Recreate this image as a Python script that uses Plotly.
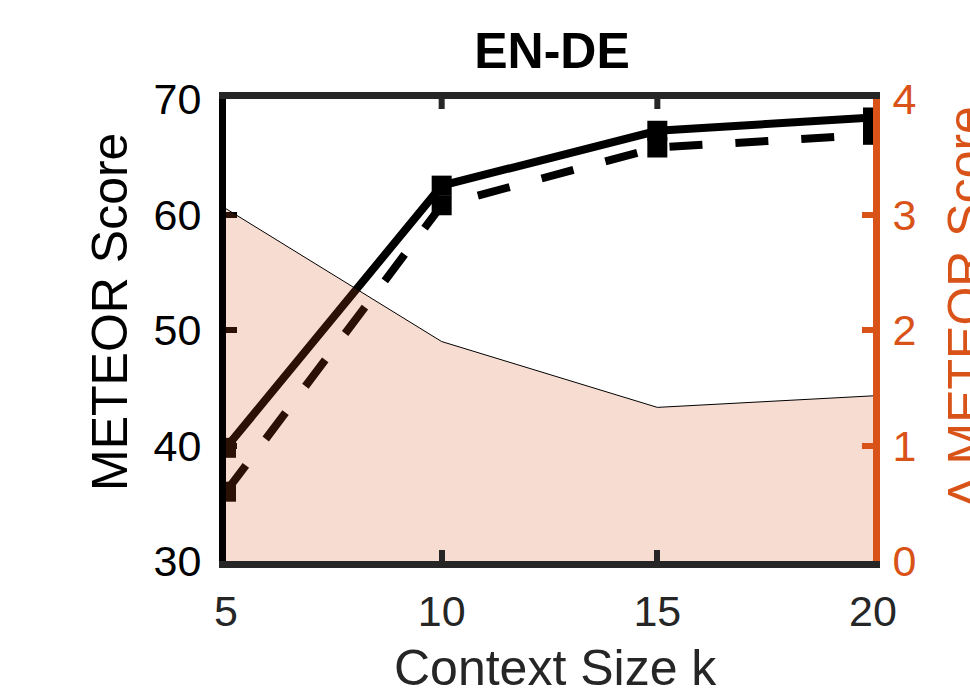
import plotly.graph_objects as go

# Data
context_k = [5, 10, 15, 20]
meteor_solid = [39.8, 62.5, 67.25, 68.4]
meteor_dashed = [36.0, 60.8, 65.8, 66.9]
delta_meteor = [3.05, 1.90, 1.33, 1.43]

x_ticks = [5, 10, 15, 20]
y_ticks = [30, 40, 50, 60, 70]
y2_ticks = [0, 1, 2, 3, 4]

ORANGE = "#D95319"
DARK = "#262626"
FONT = "Liberation Sans, Arial, Helvetica, sans-serif"

W, H = 970, 696
L, R, T, B = 226, 97, 99, 135
pw = W - L - R
ph = H - T - B

def px_to_paper_x(px):
    return (px - L) / pw

def px_to_paper_y(py):
    return (H - B - py) / ph

fig = go.Figure()

fig.add_trace(go.Scatter(
    x=context_k, y=meteor_solid, mode="lines+markers",
    line=dict(color="black", width=8),
    marker=dict(symbol="square", size=20, color="black"),
    showlegend=False, hoverinfo="skip", yaxis="y"))

fig.add_trace(go.Scatter(
    x=context_k, y=meteor_dashed, mode="lines+markers",
    line=dict(color="black", width=8, dash="33px,33px"),
    marker=dict(symbol="square", size=20, color="black"),
    showlegend=False, hoverinfo="skip", yaxis="y"))

fig.add_trace(go.Scatter(
    x=context_k, y=delta_meteor, mode="lines", fill="tozeroy",
    fillcolor="rgba(217,83,25,0.2)",
    line=dict(color="black", width=1),
    showlegend=False, hoverinfo="skip", yaxis="y2"))

# inward tick stubs on the top (mirrored) x axis line
top_tick_shapes = [
    dict(type="line", xref="x", yref="paper", x0=v, x1=v, y0=1.0, y1=1.0 - 10 / ph,
         line=dict(color=DARK, width=6), layer="above")
    for v in x_ticks[1:-1]
]

fig.update_layout(
    width=W, height=H,
    margin=dict(l=L, r=R, t=T, b=B, pad=0),
    paper_bgcolor="white", plot_bgcolor="white",
    font=dict(family=FONT, size=43, color=DARK),
    title=dict(text="<b>EN-DE</b>", x=px_to_paper_x(552), xref="paper",
               y=1 - 50 / H, yref="container", xanchor="center", yanchor="middle",
               font=dict(family=FONT, size=50, color="black")),
    xaxis=dict(range=[5, 20], tickvals=x_ticks, ticktext=[str(v) for v in x_ticks],
               showgrid=False, zeroline=False,
               showline=True, linecolor=DARK, linewidth=7, mirror=True,
               ticks="inside", ticklen=11, tickwidth=6, tickcolor=DARK,
               ticklabelstandoff=6,
               tickfont=dict(family=FONT, size=43, color=DARK)),
    yaxis=dict(range=[30, 70], tickvals=y_ticks, ticktext=[str(v) for v in y_ticks],
               showgrid=False, zeroline=False,
               showline=True, linecolor="black", linewidth=7,
               ticks="inside", ticklen=11, tickwidth=6, tickcolor="black",
               ticklabelstandoff=9,
               layer="below traces",
               tickfont=dict(family=FONT, size=43, color="black")),
    yaxis2=dict(range=[0, 4], tickvals=y2_ticks, ticktext=[str(v) for v in y2_ticks],
                overlaying="y", side="right",
                showgrid=False, zeroline=False,
                showline=True, linecolor=ORANGE, linewidth=7,
                ticks="inside", ticklen=11, tickwidth=6, tickcolor=ORANGE,
                ticklabelstandoff=4,
                tickfont=dict(family=FONT, size=43, color=ORANGE)),
    shapes=top_tick_shapes,
    annotations=[
        dict(text="METEOR Score", xref="paper", yref="paper",
             x=px_to_paper_x(110), y=px_to_paper_y(312), textangle=-90,
             showarrow=False, xanchor="center", yanchor="middle",
             font=dict(family=FONT, size=50, color="black")),
        dict(text="Δ METEOR Score", xref="paper", yref="paper",
             x=px_to_paper_x(966), y=px_to_paper_y(308), textangle=-90,
             showarrow=False, xanchor="center", yanchor="middle",
             font=dict(family=FONT, size=50, color=ORANGE)),
        dict(text="Context Size k", xref="paper", yref="paper",
             x=px_to_paper_x(555), y=px_to_paper_y(668),
             showarrow=False, xanchor="center", yanchor="middle",
             font=dict(family=FONT, size=50, color=DARK)),
    ],
)

fig.write_html("out.html",
               config={"displayModeBar": False, "staticPlot": True},
               post_script="document.body.style.margin='0';document.body.style.overflow='hidden';")
